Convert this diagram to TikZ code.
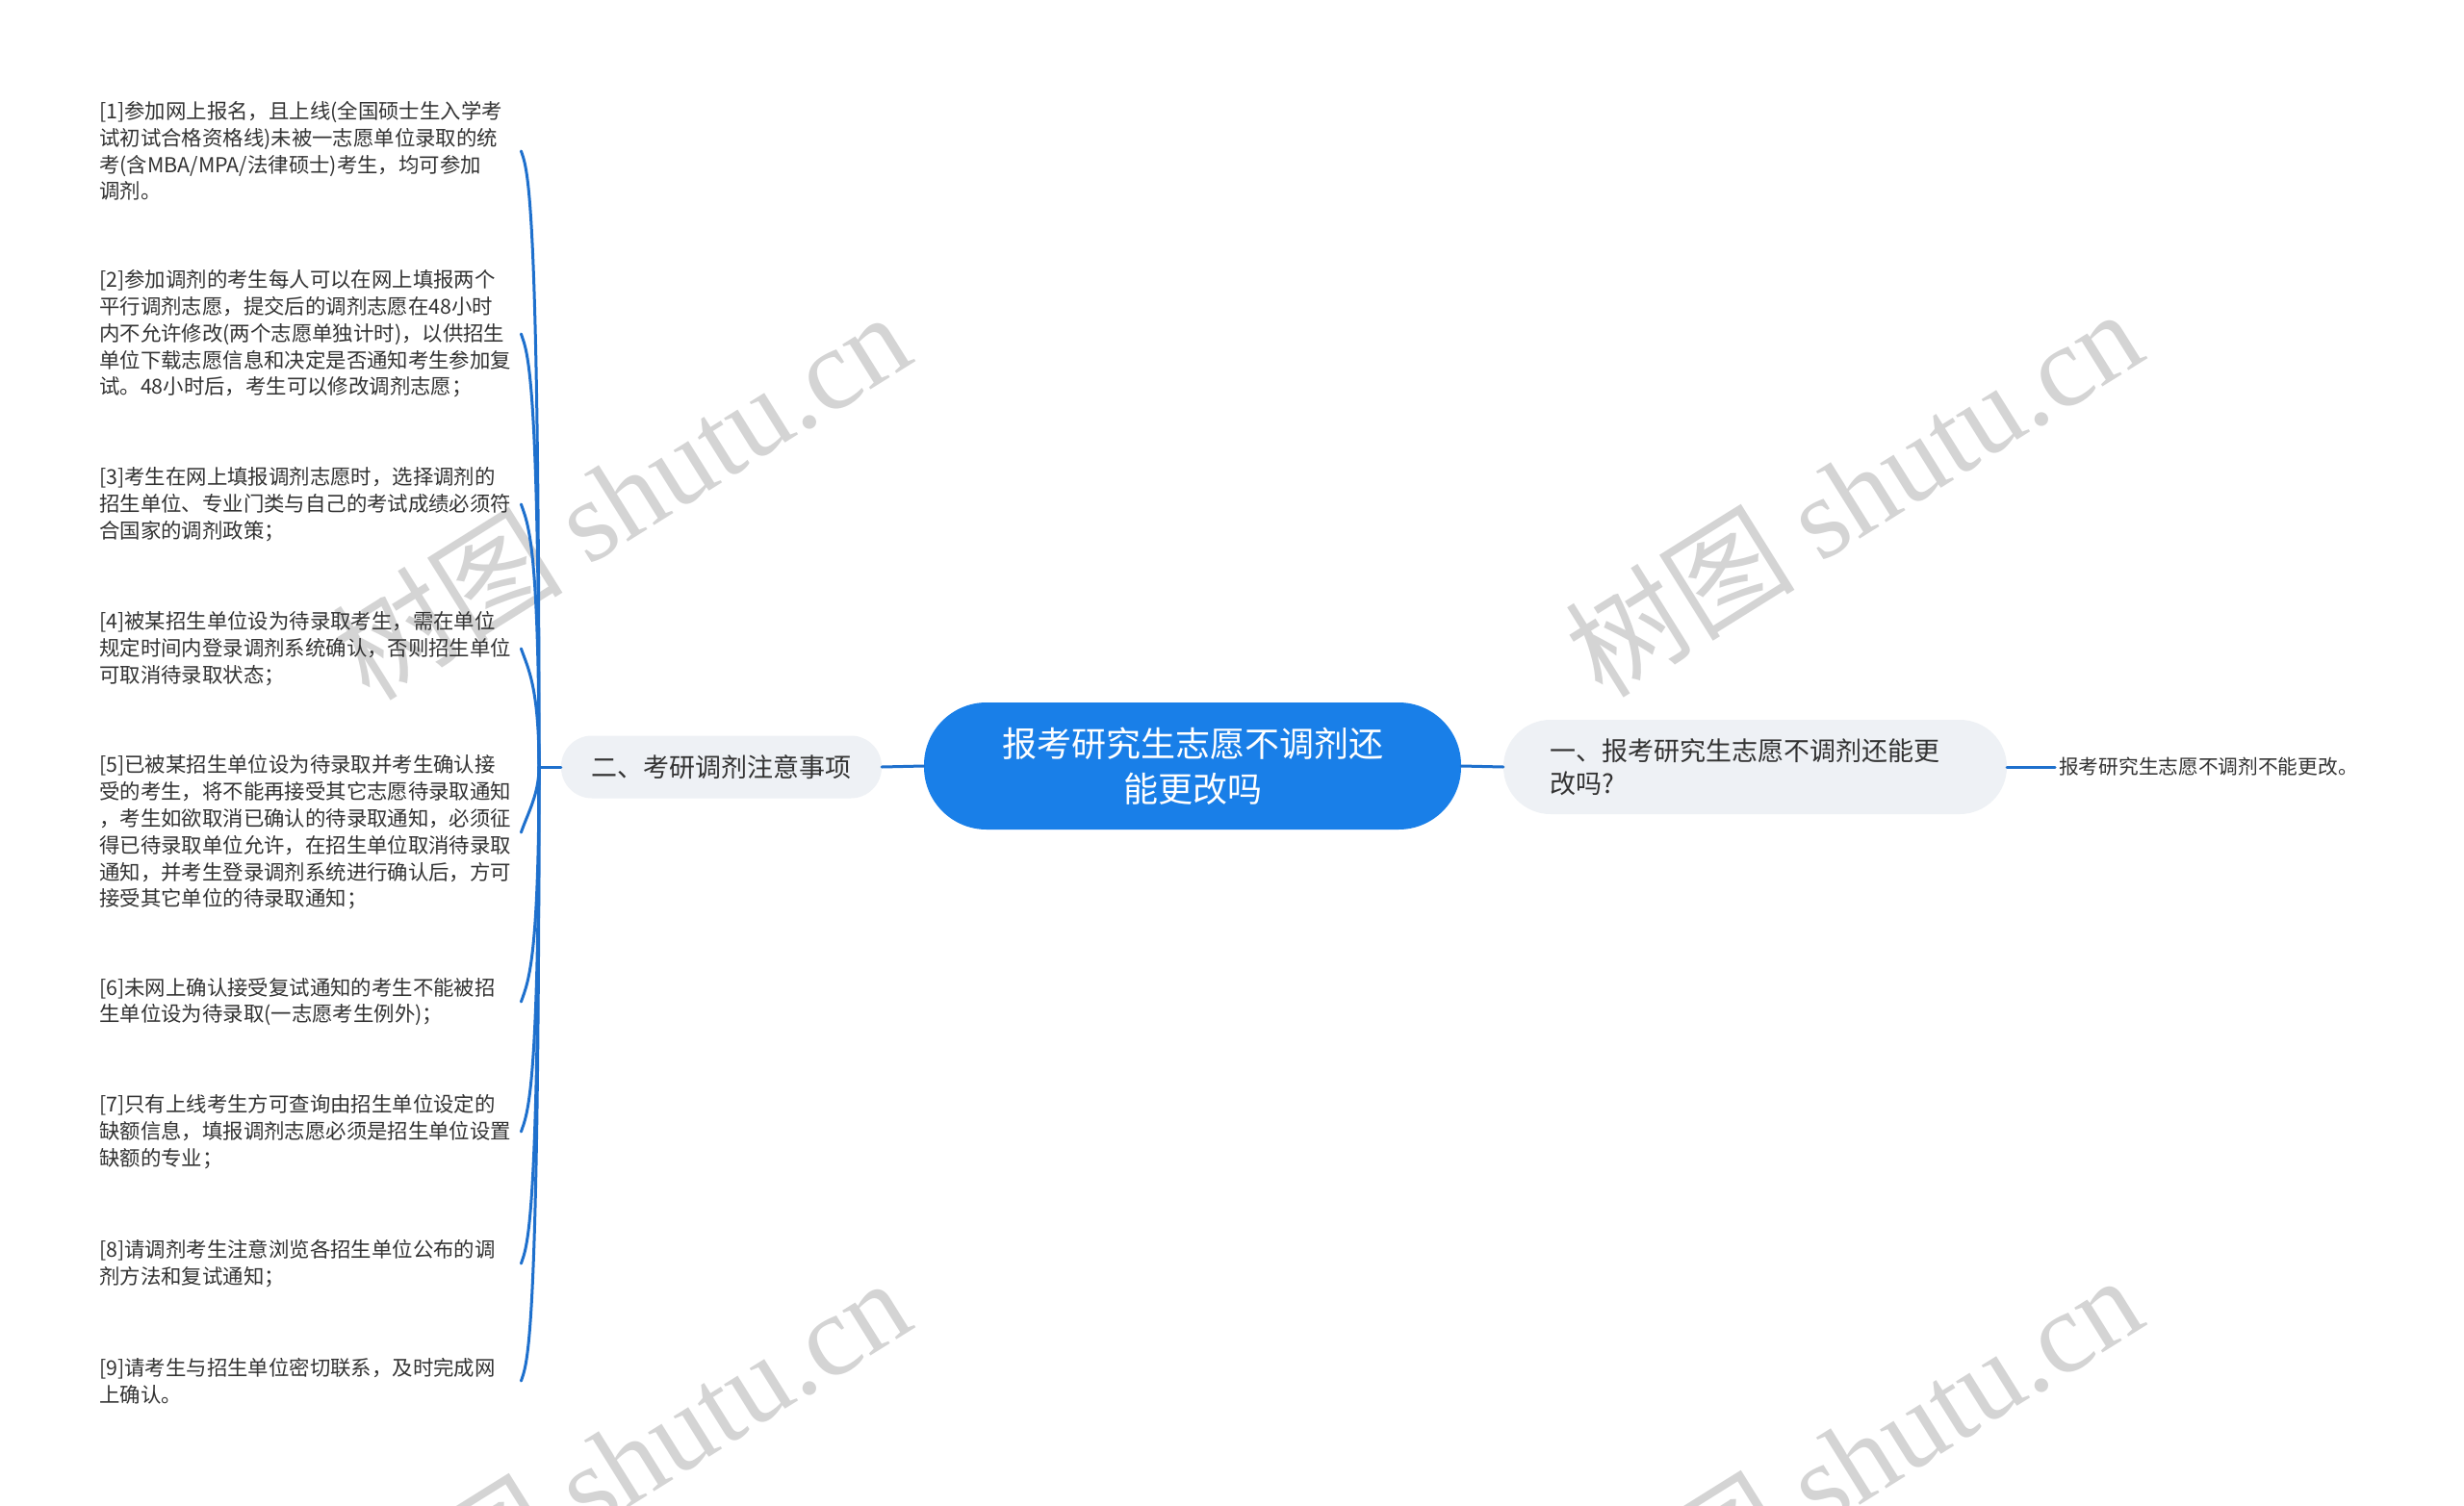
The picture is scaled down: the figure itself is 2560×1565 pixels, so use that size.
\documentclass[tikz,border=0pt]{standalone}
\usepackage{fontspec}
\setmainfont{Noto Sans CJK SC}
\newfontfamily\wmlatin{Liberation Serif}
\newfontfamily\wmcjk{Noto Sans CJK SC}
\usetikzlibrary{calc}
\definecolor{rootblue}{RGB}{25,127,232}
\definecolor{linkblue}{RGB}{30,112,205}
\definecolor{topicgray}{RGB}{238,241,245}
\definecolor{txtgray}{RGB}{51,51,51}
\definecolor{wmgray}{RGB}{212,212,212}
\begin{document}
\begin{tikzpicture}[x=1pt,y=-1pt,
  rootnode/.style={fill=rootblue, text=white, rounded corners=65pt, minimum width=558pt, minimum height=132pt, align=center, inner sep=0pt, font=\fontsize{36}{47}\selectfont},
  topicnode/.style={fill=topicgray, text=txtgray, inner ysep=0pt, font=\fontsize{27}{34.5}\selectfont},
  leafnode/.style={anchor=west, text=txtgray, text width=438pt, align=left, inner xsep=0pt, inner ysep=2pt, font=\fontsize{21.4}{27.8}\selectfont},
  link/.style={draw=linkblue, line width=3pt, line cap=round},
  wmark/.style={text=wmgray, rotate=32, inner sep=0pt, font=\fontsize{120}{120}\selectfont}
]
\useasboundingbox[fill=white] (0,0) rectangle (2560,1565);

% watermarks
\node[wmark] (w1) at (645,514) {\wmcjk 树图 \wmlatin shutu.cn};
\node[wmark] (w2) at (1925,511) {\wmcjk 树图 \wmlatin shutu.cn};
\node[wmark] (w3) at (645,1518) {\wmcjk 树图 \wmlatin shutu.cn};
\node[wmark] (w4) at (1925,1515) {\wmcjk 树图 \wmlatin shutu.cn};

% main nodes
\node[rootnode] (root) at (1239,796) {报考研究生志愿不调剂还\\能更改吗};
\node[topicnode, rounded corners=32pt, minimum width=333pt, minimum height=65pt] (t2) at (749.5,797) {二、考研调剂注意事项};
\node[topicnode, rounded corners=49pt, minimum height=98pt, text width=427pt, align=left, inner xsep=48pt] (t1) at (1823.5,797) {一、报考研究生志愿不调剂还能更\\改吗?};
\node[anchor=west, text=txtgray, inner xsep=4pt, font=\fontsize{20.7}{26}\selectfont] (r1) at (2135,797) {报考研究生志愿不调剂不能更改。};

% leaves
\node[leafnode] (L1) at (103,157) {[1]参加网上报名，且上线(全国硕士生入学考\\试初试合格资格线)未被一志愿单位录取的统\\考(含MBA/MPA/法律硕士)考生，均可参加\\调剂。};
\node[leafnode] (L2) at (103,347) {[2]参加调剂的考生每人可以在网上填报两个\\平行调剂志愿，提交后的调剂志愿在48小时\\内不允许修改(两个志愿单独计时)，以供招生\\单位下载志愿信息和决定是否通知考生参加复\\试。48小时后，考生可以修改调剂志愿；};
\node[leafnode] (L3) at (103,524) {[3]考生在网上填报调剂志愿时，选择调剂的\\招生单位、专业门类与自己的考试成绩必须符\\合国家的调剂政策；};
\node[leafnode] (L4) at (103,674) {[4]被某招生单位设为待录取考生，需在单位\\规定时间内登录调剂系统确认，否则招生单位\\可取消待录取状态；};
\node[leafnode] (L5) at (103,865) {[5]已被某招生单位设为待录取并考生确认接\\受的考生，将不能再接受其它志愿待录取通知\\，考生如欲取消已确认的待录取通知，必须征\\得已待录取单位允许，在招生单位取消待录取\\通知，并考生登录调剂系统进行确认后，方可\\接受其它单位的待录取通知；};
\node[leafnode] (L6) at (103,1041) {[6]未网上确认接受复试通知的考生不能被招\\生单位设为待录取(一志愿考生例外)；};
\node[leafnode] (L7) at (103,1176) {[7]只有上线考生方可查询由招生单位设定的\\缺额信息，填报调剂志愿必须是招生单位设置\\缺额的专业；};
\node[leafnode] (L8) at (103,1313) {[8]请调剂考生注意浏览各招生单位公布的调\\剂方法和复试通知；};
\node[leafnode] (L9) at (103,1435) {[9]请考生与招生单位密切联系，及时完成网\\上确认。};

% connectors
\draw[link] (root.west) -- (t2.east);
\draw[link] (root.east) -- (t1.west);
\draw[link] (t1.east) -- (r1.west);
\coordinate (j) at (560,797);
\draw[link] (t2.west) -- (j);
\foreach \n/\s in {L1/1,L2/1,L3/1,L4/1,L5/-1,L6/-1,L7/-1,L8/-1,L9/-1}{
  \draw[link] (j) .. controls ($(j|-\n.east)+(0,\s*40)$) and ($(\n.east)+(7,\s*20)$) .. (\n.east);
}
\end{tikzpicture}
\end{document}
